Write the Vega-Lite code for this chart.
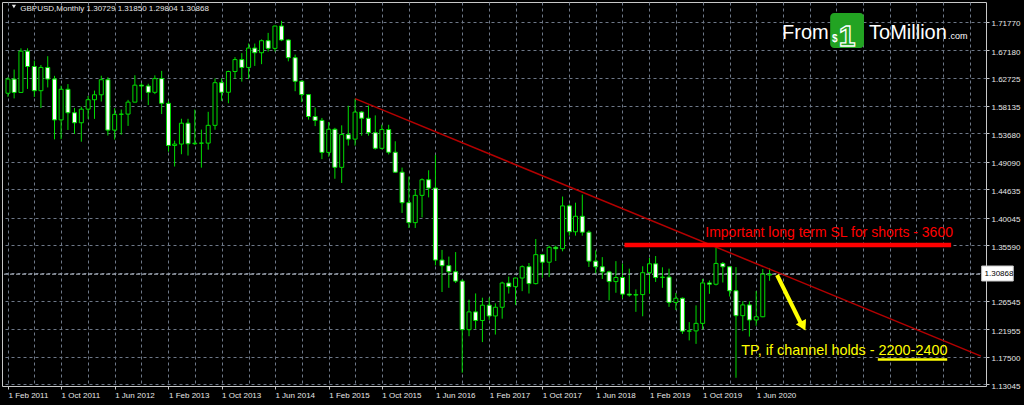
{
  "$schema": "https://vega.github.io/schema/vega-lite/v6.json",
  "width": 984,
  "height": 384,
  "autosize": {"type": "none"},
  "padding": {"left": 2, "top": 2, "right": 38, "bottom": 19},
  "background": "#000000",
  "config": {
    "view": {"stroke": "#c8c8c8", "strokeWidth": 1},
    "font": "Liberation Sans",
    "text": {"font": "Liberation Sans"},
    "axis": {
      "labelColor": "#e6e6e6",
      "labelFont": "Liberation Sans",
      "labelFontSize": 8,
      "labelFlush": false,
      "labelOverlap": false,
      "labelBound": false,
      "domain": false,
      "tickSize": 3,
      "tickColor": "#c8c8c8",
      "grid": true,
      "gridColor": "#6e7888",
      "gridDash": [3, 3],
      "gridWidth": 1
    }
  },
  "datasets": {
    "candles": [
      {"date": "2011-02-01", "open": 1.6018, "high": 1.6279, "low": 1.5960, "close": 1.6247},
      {"date": "2011-03-01", "open": 1.6247, "high": 1.6402, "low": 1.5935, "close": 1.6031},
      {"date": "2011-04-01", "open": 1.6031, "high": 1.6746, "low": 1.6030, "close": 1.6700},
      {"date": "2011-05-01", "open": 1.6700, "high": 1.6746, "low": 1.6088, "close": 1.6451},
      {"date": "2011-06-01", "open": 1.6451, "high": 1.6547, "low": 1.5958, "close": 1.6059},
      {"date": "2011-07-01", "open": 1.6059, "high": 1.6475, "low": 1.5780, "close": 1.6436},
      {"date": "2011-08-01", "open": 1.6436, "high": 1.6618, "low": 1.6112, "close": 1.6248},
      {"date": "2011-09-01", "open": 1.6248, "high": 1.6300, "low": 1.5271, "close": 1.5586},
      {"date": "2011-10-01", "open": 1.5586, "high": 1.6140, "low": 1.5274, "close": 1.6082},
      {"date": "2011-11-01", "open": 1.6082, "high": 1.6166, "low": 1.5423, "close": 1.5702},
      {"date": "2011-12-01", "open": 1.5702, "high": 1.5780, "low": 1.5359, "close": 1.5540},
      {"date": "2012-01-01", "open": 1.5540, "high": 1.5800, "low": 1.5233, "close": 1.5760},
      {"date": "2012-02-01", "open": 1.5760, "high": 1.5975, "low": 1.5603, "close": 1.5913},
      {"date": "2012-03-01", "open": 1.5913, "high": 1.6061, "low": 1.5603, "close": 1.5993},
      {"date": "2012-04-01", "open": 1.5993, "high": 1.6302, "low": 1.5883, "close": 1.6237},
      {"date": "2012-05-01", "open": 1.6237, "high": 1.6278, "low": 1.5333, "close": 1.5421},
      {"date": "2012-06-01", "open": 1.5421, "high": 1.5776, "low": 1.5268, "close": 1.5676},
      {"date": "2012-07-01", "open": 1.5676, "high": 1.5754, "low": 1.5348, "close": 1.5680},
      {"date": "2012-08-01", "open": 1.5680, "high": 1.5911, "low": 1.5489, "close": 1.5874},
      {"date": "2012-09-01", "open": 1.5874, "high": 1.6309, "low": 1.5872, "close": 1.6149},
      {"date": "2012-10-01", "open": 1.6149, "high": 1.6181, "low": 1.5913, "close": 1.6135},
      {"date": "2012-11-01", "open": 1.6135, "high": 1.6172, "low": 1.5827, "close": 1.6033},
      {"date": "2012-12-01", "open": 1.6033, "high": 1.6308, "low": 1.6004, "close": 1.6255},
      {"date": "2013-01-01", "open": 1.6255, "high": 1.6381, "low": 1.5681, "close": 1.5855},
      {"date": "2013-02-01", "open": 1.5855, "high": 1.5895, "low": 1.5071, "close": 1.5172},
      {"date": "2013-03-01", "open": 1.5172, "high": 1.5250, "low": 1.4831, "close": 1.5195},
      {"date": "2013-04-01", "open": 1.5195, "high": 1.5605, "low": 1.5030, "close": 1.5533},
      {"date": "2013-05-01", "open": 1.5533, "high": 1.5604, "low": 1.5008, "close": 1.5200},
      {"date": "2013-06-01", "open": 1.5200, "high": 1.5752, "low": 1.5181, "close": 1.5209},
      {"date": "2013-07-01", "open": 1.5209, "high": 1.5429, "low": 1.4813, "close": 1.5210},
      {"date": "2013-08-01", "open": 1.5210, "high": 1.5717, "low": 1.5104, "close": 1.5498},
      {"date": "2013-09-01", "open": 1.5498, "high": 1.6258, "low": 1.5427, "close": 1.6189},
      {"date": "2013-10-01", "open": 1.6189, "high": 1.6259, "low": 1.5894, "close": 1.6034},
      {"date": "2013-11-01", "open": 1.6034, "high": 1.6383, "low": 1.5856, "close": 1.6370},
      {"date": "2013-12-01", "open": 1.6370, "high": 1.6603, "low": 1.6252, "close": 1.6563},
      {"date": "2014-01-01", "open": 1.6563, "high": 1.6668, "low": 1.6206, "close": 1.6436},
      {"date": "2014-02-01", "open": 1.6436, "high": 1.6824, "low": 1.6249, "close": 1.6750},
      {"date": "2014-03-01", "open": 1.6750, "high": 1.6823, "low": 1.6461, "close": 1.6674},
      {"date": "2014-04-01", "open": 1.6674, "high": 1.6890, "low": 1.6489, "close": 1.6869},
      {"date": "2014-05-01", "open": 1.6869, "high": 1.6996, "low": 1.6693, "close": 1.6745},
      {"date": "2014-06-01", "open": 1.6745, "high": 1.7112, "low": 1.6694, "close": 1.7107},
      {"date": "2014-07-01", "open": 1.7107, "high": 1.7191, "low": 1.6862, "close": 1.6881},
      {"date": "2014-08-01", "open": 1.6881, "high": 1.6893, "low": 1.6535, "close": 1.6594},
      {"date": "2014-09-01", "open": 1.6594, "high": 1.6644, "low": 1.6051, "close": 1.6212},
      {"date": "2014-10-01", "open": 1.6212, "high": 1.6228, "low": 1.5874, "close": 1.5996},
      {"date": "2014-11-01", "open": 1.5996, "high": 1.6004, "low": 1.5591, "close": 1.5641},
      {"date": "2014-12-01", "open": 1.5641, "high": 1.5787, "low": 1.5486, "close": 1.5578},
      {"date": "2015-01-01", "open": 1.5578, "high": 1.5618, "low": 1.4951, "close": 1.5060},
      {"date": "2015-02-01", "open": 1.5060, "high": 1.5552, "low": 1.4989, "close": 1.5434},
      {"date": "2015-03-01", "open": 1.5434, "high": 1.5458, "low": 1.4633, "close": 1.4818},
      {"date": "2015-04-01", "open": 1.4818, "high": 1.5498, "low": 1.4564, "close": 1.5348},
      {"date": "2015-05-01", "open": 1.5348, "high": 1.5815, "low": 1.5170, "close": 1.5275},
      {"date": "2015-06-01", "open": 1.5275, "high": 1.5930, "low": 1.5170, "close": 1.5713},
      {"date": "2015-07-01", "open": 1.5713, "high": 1.5730, "low": 1.5330, "close": 1.5613},
      {"date": "2015-08-01", "open": 1.5613, "high": 1.5819, "low": 1.5330, "close": 1.5379},
      {"date": "2015-09-01", "open": 1.5379, "high": 1.5659, "low": 1.5106, "close": 1.5126},
      {"date": "2015-10-01", "open": 1.5126, "high": 1.5509, "low": 1.5107, "close": 1.5430},
      {"date": "2015-11-01", "open": 1.5430, "high": 1.5507, "low": 1.5026, "close": 1.5062},
      {"date": "2015-12-01", "open": 1.5062, "high": 1.5240, "low": 1.4732, "close": 1.4739},
      {"date": "2016-01-01", "open": 1.4739, "high": 1.4814, "low": 1.4079, "close": 1.4245},
      {"date": "2016-02-01", "open": 1.4245, "high": 1.4668, "low": 1.3836, "close": 1.3922},
      {"date": "2016-03-01", "open": 1.3922, "high": 1.4459, "low": 1.3836, "close": 1.4364},
      {"date": "2016-04-01", "open": 1.4364, "high": 1.4639, "low": 1.4006, "close": 1.4617},
      {"date": "2016-05-01", "open": 1.4617, "high": 1.4770, "low": 1.4331, "close": 1.4482},
      {"date": "2016-06-01", "open": 1.4482, "high": 1.5018, "low": 1.3229, "close": 1.3316},
      {"date": "2016-07-01", "open": 1.3316, "high": 1.3480, "low": 1.2798, "close": 1.3225},
      {"date": "2016-08-01", "open": 1.3225, "high": 1.3372, "low": 1.2866, "close": 1.3127},
      {"date": "2016-09-01", "open": 1.3127, "high": 1.3445, "low": 1.2944, "close": 1.2975},
      {"date": "2016-10-01", "open": 1.2975, "high": 1.3004, "low": 1.1491, "close": 1.2188},
      {"date": "2016-11-01", "open": 1.2188, "high": 1.2674, "low": 1.2082, "close": 1.2476},
      {"date": "2016-12-01", "open": 1.2476, "high": 1.2775, "low": 1.2201, "close": 1.2337},
      {"date": "2017-01-01", "open": 1.2337, "high": 1.2706, "low": 1.1987, "close": 1.2585},
      {"date": "2017-02-01", "open": 1.2585, "high": 1.2706, "low": 1.2347, "close": 1.2410},
      {"date": "2017-03-01", "open": 1.2410, "high": 1.2615, "low": 1.2109, "close": 1.2551},
      {"date": "2017-04-01", "open": 1.2551, "high": 1.2965, "low": 1.2366, "close": 1.2944},
      {"date": "2017-05-01", "open": 1.2944, "high": 1.3048, "low": 1.2773, "close": 1.2885},
      {"date": "2017-06-01", "open": 1.2885, "high": 1.3030, "low": 1.2589, "close": 1.3025},
      {"date": "2017-07-01", "open": 1.3025, "high": 1.3230, "low": 1.2812, "close": 1.3208},
      {"date": "2017-08-01", "open": 1.3208, "high": 1.3268, "low": 1.2774, "close": 1.2934},
      {"date": "2017-09-01", "open": 1.2934, "high": 1.3657, "low": 1.2921, "close": 1.3403},
      {"date": "2017-10-01", "open": 1.3403, "high": 1.3410, "low": 1.3027, "close": 1.3281},
      {"date": "2017-11-01", "open": 1.3281, "high": 1.3549, "low": 1.3040, "close": 1.3522},
      {"date": "2017-12-01", "open": 1.3522, "high": 1.3549, "low": 1.3300, "close": 1.3500},
      {"date": "2018-01-01", "open": 1.3500, "high": 1.4345, "low": 1.3457, "close": 1.4193},
      {"date": "2018-02-01", "open": 1.4193, "high": 1.4215, "low": 1.3712, "close": 1.3774},
      {"date": "2018-03-01", "open": 1.3774, "high": 1.4245, "low": 1.3711, "close": 1.4025},
      {"date": "2018-04-01", "open": 1.4025, "high": 1.4377, "low": 1.3711, "close": 1.3767},
      {"date": "2018-05-01", "open": 1.3767, "high": 1.3795, "low": 1.3204, "close": 1.3298},
      {"date": "2018-06-01", "open": 1.3298, "high": 1.3473, "low": 1.3100, "close": 1.3207},
      {"date": "2018-07-01", "open": 1.3207, "high": 1.3363, "low": 1.3010, "close": 1.3124},
      {"date": "2018-08-01", "open": 1.3124, "high": 1.3142, "low": 1.2662, "close": 1.2967},
      {"date": "2018-09-01", "open": 1.2967, "high": 1.3298, "low": 1.2786, "close": 1.3033},
      {"date": "2018-10-01", "open": 1.3033, "high": 1.3258, "low": 1.2695, "close": 1.2764},
      {"date": "2018-11-01", "open": 1.2764, "high": 1.3176, "low": 1.2723, "close": 1.2749},
      {"date": "2018-12-01", "open": 1.2749, "high": 1.2840, "low": 1.2477, "close": 1.2756},
      {"date": "2019-01-01", "open": 1.2756, "high": 1.3215, "low": 1.2405, "close": 1.3111},
      {"date": "2019-02-01", "open": 1.3111, "high": 1.3351, "low": 1.2772, "close": 1.3255},
      {"date": "2019-03-01", "open": 1.3255, "high": 1.3381, "low": 1.2961, "close": 1.3032},
      {"date": "2019-04-01", "open": 1.3032, "high": 1.3198, "low": 1.2866, "close": 1.3040},
      {"date": "2019-05-01", "open": 1.3040, "high": 1.3176, "low": 1.2558, "close": 1.2629},
      {"date": "2019-06-01", "open": 1.2629, "high": 1.2783, "low": 1.2506, "close": 1.2697},
      {"date": "2019-07-01", "open": 1.2697, "high": 1.2709, "low": 1.2119, "close": 1.2164},
      {"date": "2019-08-01", "open": 1.2164, "high": 1.2310, "low": 1.2014, "close": 1.2168},
      {"date": "2019-09-01", "open": 1.2168, "high": 1.2582, "low": 1.1958, "close": 1.2290},
      {"date": "2019-10-01", "open": 1.2290, "high": 1.3012, "low": 1.2192, "close": 1.2945},
      {"date": "2019-11-01", "open": 1.2945, "high": 1.2985, "low": 1.2769, "close": 1.2924},
      {"date": "2019-12-01", "open": 1.2924, "high": 1.3514, "low": 1.2905, "close": 1.3261},
      {"date": "2020-01-01", "open": 1.3261, "high": 1.3284, "low": 1.2952, "close": 1.3207},
      {"date": "2020-02-01", "open": 1.3207, "high": 1.3210, "low": 1.2725, "close": 1.2818},
      {"date": "2020-03-01", "open": 1.2818, "high": 1.3201, "low": 1.1409, "close": 1.2415},
      {"date": "2020-04-01", "open": 1.2415, "high": 1.2648, "low": 1.2165, "close": 1.2589},
      {"date": "2020-05-01", "open": 1.2589, "high": 1.2647, "low": 1.2076, "close": 1.2345},
      {"date": "2020-06-01", "open": 1.2345, "high": 1.2813, "low": 1.2251, "close": 1.2397},
      {"date": "2020-07-01", "open": 1.2397, "high": 1.3170, "low": 1.2390, "close": 1.3088},
      {"date": "2020-08-01", "open": 1.30729, "high": 1.31850, "low": 1.29804, "close": 1.30868}
    ]
  },
  "layer": [
    {
      "data": {"name": "candles"},
      "mark": {"type": "rule", "stroke": "#00dd00", "strokeWidth": 1},
      "encoding": {
        "x": {
          "field": "date", "type": "temporal",
          "scale": {"type": "utc", "nice": false, "domain": [{"year": 2011, "month": 1, "date": 27, "hours": 12, "utc": true}, {"year": 2023, "month": 3, "date": 22, "utc": true}]},
          "axis": {
            "title": null,
            "orient": "bottom",
            "tickCount": 60,
            "values": [
              {"year": 2011, "month": 2, "date": 1, "utc": true}, {"year": 2011, "month": 6, "date": 1, "utc": true}, {"year": 2011, "month": 10, "date": 1, "utc": true},
              {"year": 2012, "month": 2, "date": 1, "utc": true}, {"year": 2012, "month": 6, "date": 1, "utc": true}, {"year": 2012, "month": 10, "date": 1, "utc": true},
              {"year": 2013, "month": 2, "date": 1, "utc": true}, {"year": 2013, "month": 6, "date": 1, "utc": true}, {"year": 2013, "month": 10, "date": 1, "utc": true},
              {"year": 2014, "month": 2, "date": 1, "utc": true}, {"year": 2014, "month": 6, "date": 1, "utc": true}, {"year": 2014, "month": 10, "date": 1, "utc": true},
              {"year": 2015, "month": 2, "date": 1, "utc": true}, {"year": 2015, "month": 6, "date": 1, "utc": true}, {"year": 2015, "month": 10, "date": 1, "utc": true},
              {"year": 2016, "month": 2, "date": 1, "utc": true}, {"year": 2016, "month": 6, "date": 1, "utc": true}, {"year": 2016, "month": 10, "date": 1, "utc": true},
              {"year": 2017, "month": 2, "date": 1, "utc": true}, {"year": 2017, "month": 6, "date": 1, "utc": true}, {"year": 2017, "month": 10, "date": 1, "utc": true},
              {"year": 2018, "month": 2, "date": 1, "utc": true}, {"year": 2018, "month": 6, "date": 1, "utc": true}, {"year": 2018, "month": 10, "date": 1, "utc": true},
              {"year": 2019, "month": 2, "date": 1, "utc": true}, {"year": 2019, "month": 6, "date": 1, "utc": true}, {"year": 2019, "month": 10, "date": 1, "utc": true},
              {"year": 2020, "month": 2, "date": 1, "utc": true}, {"year": 2020, "month": 6, "date": 1, "utc": true}, {"year": 2020, "month": 10, "date": 1, "utc": true},
              {"year": 2021, "month": 2, "date": 1, "utc": true}, {"year": 2021, "month": 6, "date": 1, "utc": true}, {"year": 2021, "month": 10, "date": 1, "utc": true},
              {"year": 2022, "month": 2, "date": 1, "utc": true}, {"year": 2022, "month": 6, "date": 1, "utc": true}, {"year": 2022, "month": 10, "date": 1, "utc": true},
              {"year": 2023, "month": 2, "date": 1, "utc": true}
            ],
            "labelExpr": "(((utcyear(datum.value)-2011)*12+utcmonth(datum.value)-1)%8==0 && ((utcyear(datum.value)-2011)*12+utcmonth(datum.value)-1)<=112) ? utcFormat(datum.value, '%-d %b %Y') : ''",
            "labelAlign": "left",
            "labelBaseline": "top",
            "labelPadding": 2,
            "labelOverlap": false,
            "labelFlush": false,
            "labelBound": false,
            "labelColor": "#e6e6e6",
            "labelFontSize": 8,
            "tickSize": 3,
            "tickColor": "#c8c8c8",
            "tickOpacity": {"condition": {"test": "(((utcyear(datum.value)-2011)*12+utcmonth(datum.value)-1)%8==0 && ((utcyear(datum.value)-2011)*12+utcmonth(datum.value)-1)<=112)", "value": 1}, "value": 0},
            "grid": true,
            "gridColor": "#6e7888",
            "gridDash": [3, 3],
            "domain": false
          }
        },
        "y": {
          "field": "low", "type": "quantitative",
          "scale": {"domain": [1.12755, 1.74961], "zero": false, "nice": false},
          "axis": {
            "title": null,
            "orient": "right",
            "tickCount": 30,
            "values": [1.13045, 1.175, 1.21955, 1.26545, 1.31045, 1.3559, 1.40045, 1.44635, 1.4909, 1.5368, 1.58135, 1.62725, 1.6718, 1.7177],
            "labelExpr": "datum.value == 1.31045 ? '' : format(datum.value, '.5f')",
            "labelAlign": "left",
            "labelBaseline": "middle",
            "labelOffset": 2,
            "labelPadding": 2,
            "labelOverlap": false,
            "labelFlush": false,
            "labelBound": false,
            "labelColor": "#e6e6e6",
            "labelFontSize": 8,
            "tickSize": 3,
            "tickColor": "#c8c8c8",
            "grid": true,
            "gridColor": "#6e7888",
            "gridDash": [3, 3],
            "domain": false
          }
        },
        "y2": {"field": "high"}
      }
    },
    {
      "data": {"values": [{"price": 1.30868}]},
      "mark": {"type": "rule", "stroke": "#b4bcc6", "strokeWidth": 1, "strokeDash": [4, 2]},
      "encoding": {
        "y": {"field": "price", "type": "quantitative"}
      }
    },
    {
      "data": {"name": "candles"},
      "mark": {"type": "bar", "size": 4, "stroke": "#00dd00", "strokeWidth": 1},
      "encoding": {
        "x": {"field": "date", "type": "temporal"},
        "y": {"field": "open", "type": "quantitative"},
        "y2": {"field": "close"},
        "fill": {"condition": {"test": "datum.close >= datum.open", "value": "#000000"}, "value": "#ffffff"}
      }
    },
    {
      "data": {"values": [{"date": "2015-06-01", "price": 1.5930}, {"date": "2023-03-22", "price": 1.1760}]},
      "mark": {"type": "line", "stroke": "#b40000", "strokeWidth": 1.5},
      "encoding": {
        "x": {"field": "date", "type": "temporal"},
        "y": {"field": "price", "type": "quantitative"}
      }
    },
    {
      "data": {"values": [{"start": "2018-10-10", "end": "2022-11-06", "price": 1.3559}]},
      "mark": {"type": "rule", "stroke": "#ff0000", "strokeWidth": 4.5},
      "encoding": {
        "x": {"field": "start", "type": "temporal"},
        "x2": {"field": "end"},
        "y": {"field": "price", "type": "quantitative"}
      }
    },
    {
      "data": {"values": [{"date": "2019-10-13", "price": 1.36892, "label": "Important long term SL for shorts - 3600"}]},
      "mark": {"type": "text", "fill": "#ff0000", "font": "Liberation Sans", "fontSize": 14, "align": "left", "baseline": "alphabetic"},
      "encoding": {
        "x": {"field": "date", "type": "temporal"},
        "y": {"field": "price", "type": "quantitative"},
        "text": {"field": "label"}
      }
    },
    {
      "data": {"values": [{"date": "2020-03-25", "price": 1.17776, "label": "TP, if channel holds - 2200-2400"}]},
      "mark": {"type": "text", "fill": "#ffff00", "font": "Liberation Sans", "fontSize": 14.4, "align": "left", "baseline": "alphabetic"},
      "encoding": {
        "x": {"field": "date", "type": "temporal"},
        "y": {"field": "price", "type": "quantitative"},
        "text": {"field": "label"}
      }
    },
    {
      "data": {"values": [{"start": "2021-12-07", "end": "2022-10-19", "price": 1.1705}]},
      "mark": {"type": "rule", "stroke": "#ffff00", "strokeWidth": 2.5},
      "encoding": {
        "x": {"field": "start", "type": "temporal"},
        "x2": {"field": "end"},
        "y": {"field": "price", "type": "quantitative"}
      }
    },
    {
      "data": {"values": [{"start": "2020-09-04", "end": "2020-12-21", "p1": 1.30737, "p2": 1.2296}]},
      "mark": {"type": "rule", "stroke": "#ffff00", "strokeWidth": 4, "strokeCap": "butt"},
      "encoding": {
        "x": {"field": "start", "type": "temporal"},
        "x2": {"field": "end"},
        "y": {"field": "p1", "type": "quantitative"},
        "y2": {"field": "p2"}
      }
    },
    {
      "data": {"values": [{"date": "2021-01-01", "price": 1.2247}]},
      "mark": {"type": "point", "shape": "triangle-down", "filled": true, "fill": "#ffff00", "stroke": null, "opacity": 1, "size": 130, "angle": 333},
      "encoding": {
        "x": {"field": "date", "type": "temporal"},
        "y": {"field": "price", "type": "quantitative"}
      }
    },
    {
      "data": {"values": [{"start": "2021-05-04", "end": "2021-10-05", "top": 1.7318, "bottom": 1.6751}]},
      "mark": {"type": "rect", "fill": "#22a322", "cornerRadius": 4},
      "encoding": {
        "x": {"field": "start", "type": "temporal"},
        "x2": {"field": "end"},
        "y": {"field": "top", "type": "quantitative"},
        "y2": {"field": "bottom"}
      }
    },
    {
      "data": {"values": [{"date": "2021-07-20", "price": 1.6790, "label": "1"}]},
      "mark": {"type": "text", "fill": "#22a322", "stroke": "#ffffff", "strokeWidth": 1.3, "font": "Liberation Sans", "fontWeight": "bold", "fontSize": 30, "align": "center", "baseline": "alphabetic"},
      "encoding": {
        "x": {"field": "date", "type": "temporal"},
        "y": {"field": "price", "type": "quantitative"},
        "text": {"field": "label"}
      }
    },
    {
      "data": {"values": [{"date": "2021-05-25", "price": 1.6850, "label": "$"}]},
      "mark": {"type": "text", "fill": "#ffffff", "font": "Liberation Sans", "fontWeight": "bold", "fontSize": 10, "align": "center", "baseline": "alphabetic"},
      "encoding": {
        "x": {"field": "date", "type": "temporal"},
        "y": {"field": "price", "type": "quantitative"},
        "text": {"field": "label"}
      }
    },
    {
      "data": {"values": [{"date": "2020-09-27", "price": 1.6897, "label": "From"}, {"date": "2021-10-28", "price": 1.6897, "label": "ToMillion"}]},
      "mark": {"type": "text", "fill": "#ffffff", "font": "Liberation Sans", "fontSize": 20, "align": "left", "baseline": "alphabetic"},
      "encoding": {
        "x": {"field": "date", "type": "temporal"},
        "y": {"field": "price", "type": "quantitative"},
        "text": {"field": "label"}
      }
    },
    {
      "data": {"values": [{"date": "2022-10-23", "price": 1.6897, "label": ".com"}]},
      "mark": {"type": "text", "fill": "#ffffff", "font": "Liberation Sans", "fontSize": 9, "align": "left", "baseline": "alphabetic"},
      "encoding": {
        "x": {"field": "date", "type": "temporal"},
        "y": {"field": "price", "type": "quantitative"},
        "text": {"field": "label"}
      }
    },
    {
      "data": {"values": [{"date": "2011-02-28", "price": 1.7423}]},
      "mark": {"type": "point", "shape": "triangle-down", "filled": true, "fill": "#e6e6e6", "stroke": null, "opacity": 1, "size": 18},
      "encoding": {
        "x": {"field": "date", "type": "temporal"},
        "y": {"field": "price", "type": "quantitative"}
      }
    },
    {
      "data": {"values": [{"date": "2011-03-29", "price": 1.7350, "label": "GBPUSD,Monthly  1.30729 1.31850 1.29804 1.30868"}]},
      "mark": {"type": "text", "fill": "#e6e6e6", "font": "Liberation Sans", "fontSize": 8, "align": "left", "baseline": "alphabetic"},
      "encoding": {
        "x": {"field": "date", "type": "temporal"},
        "y": {"field": "price", "type": "quantitative"},
        "text": {"field": "label"}
      }
    },
    {
      "data": {"values": [{"start": "2023-03-25", "end": "2023-08-16", "top": 1.32194, "bottom": 1.29764}]},
      "mark": {"type": "rect", "fill": "#ffffff", "stroke": "#c8c8c8", "strokeWidth": 1},
      "encoding": {
        "x": {"field": "start", "type": "temporal"},
        "x2": {"field": "end"},
        "y": {"field": "top", "type": "quantitative"},
        "y2": {"field": "bottom"}
      }
    },
    {
      "data": {"values": [{"date": "2023-04-07", "price": 1.30868, "label": "1.30868"}]},
      "mark": {"type": "text", "fill": "#000000", "font": "Liberation Sans", "fontSize": 8, "align": "left", "baseline": "middle"},
      "encoding": {
        "x": {"field": "date", "type": "temporal"},
        "y": {"field": "price", "type": "quantitative"},
        "text": {"field": "label"}
      }
    }
  ]
}
